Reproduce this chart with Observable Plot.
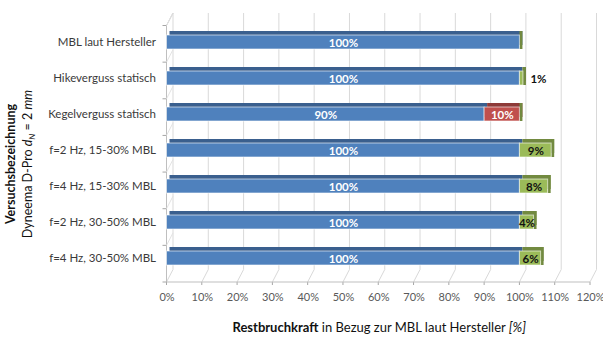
<!DOCTYPE html>
<html>
<head>
<meta charset="utf-8">
<script src="https://cdn.jsdelivr.net/npm/d3@7"></script>
<script src="https://cdn.jsdelivr.net/npm/@observablehq/plot@0.6"></script>
<style>
  html, body { margin: 0; padding: 0; background: #fff; }
  #chart svg { display: block; }
</style>
</head>
<body>
<div id="chart"></div>
<script>
// Test series (Dyneema D-Pro, d_N = 2 mm), residual breaking force in % of MBL
const categories = [
  "MBL laut Hersteller",
  "Hikeverguss statisch",
  "Kegelverguss statisch",
  "f=2 Hz, 15-30% MBL",
  "f=4 Hz, 15-30% MBL",
  "f=2 Hz, 30-50% MBL",
  "f=4 Hz, 30-50% MBL"
];
const baseValues  = [100, 100, 90, 100, 100, 100, 100];
const lossValues  = [0, 0, 10, 0, 0, 0, 0];
const gainValues  = [0, 1, 0, 9, 8, 4, 6];
const xTicks = [0, 10, 20, 30, 40, 50, 60, 70, 80, 90, 100, 110, 120];

// Excel-like 3D colours: front face, top face, label colour
const palette = {
  base: {front: "#4F81BD", top: "#3A5F8E", label: "#ffffff"},
  loss: {front: "#C0504D", top: "#8E3A38", label: "#ffffff"},
  gain: {front: "#9BBB59", top: "#728A40", label: "#111111"}
};
const seriesOrder = [
  {key: "base", values: baseValues},
  {key: "loss", values: lossValues},
  {key: "gain", values: gainValues}
];

// stacked segments (x1..x2) per category
const segments = [];
const totals = [];
categories.forEach((cat, i) => {
  let acc = 0;
  seriesOrder.forEach(s => {
    const v = s.values[i];
    segments.push({cat, series: s.key, value: v, x1: acc, x2: acc + v});
    acc += v;
  });
  totals.push({cat, total: acc});
});
const visible = segments.filter(d => d.value > 0);

// back wall, floor and left wall of the 3D chart box
function chartBox(index, scales, values, dimensions) {
  const x = scales.x;
  const {height, marginTop, marginBottom} = dimensions;
  const floorFront = height - marginBottom + 3.5;
  const depthX = 6.5, depthY = 12.5;
  const floorBack = floorFront - depthY;
  const backTop = marginTop - 9.3;
  const frontTop = backTop + depthY;
  const g = d3.create("svg:g").attr("fill", "none");
  for (const t of xTicks) {
    const px = x(t);
    g.append("path")
      .attr("d", `M${px},${floorFront}L${px + depthX},${floorBack}V${backTop}`)
      .attr("stroke", "#d9d9d9").attr("stroke-width", 1);
    g.append("path")
      .attr("d", `M${px},${floorFront}v3`)
      .attr("stroke", "#a6a6a6");
  }
  const x0 = x(0), xEnd = x(xTicks[xTicks.length - 1]);
  g.append("path")
    .attr("d", `M${x0},${floorFront}H${xEnd}`)
    .attr("stroke", "#bfbfbf");
  g.append("path")
    .attr("d", `M${x0},${floorFront}V${frontTop}L${x0 + depthX},${backTop}`)
    .attr("stroke", "#bfbfbf");
  const n = categories.length;
  for (let k = 0; k <= n; k++) {
    const yy = frontTop + (floorFront - frontTop) * k / n;
    g.append("path").attr("d", `M${x0 - 4},${yy}H${x0}`).attr("stroke", "#a6a6a6");
    if (k < n) g.append("path").attr("d", `M${x0},${yy}l${depthX},${-depthY}`).attr("stroke", "#e3e3e3");
  }
  return g.node();
}

// axis titles with mixed bold / italic runs
function titles(index, scales, values, dimensions) {
  const {width, height, marginLeft, marginRight} = dimensions;
  const g = d3.create("svg:g").attr("fill", "#111");
  const xt = g.append("text")
    .attr("x", (marginLeft + width - marginRight) / 2 + 1)
    .attr("y", height - 6)
    .attr("text-anchor", "middle")
    .attr("font-size", 13);
  xt.append("tspan").attr("font-weight", "bold").text("Restbruchkraft");
  xt.append("tspan").text(" in Bezug zur MBL laut Hersteller ");
  xt.append("tspan").attr("font-style", "italic").text("[%]");

  const cy = 164;
  g.append("text")
    .attr("transform", `translate(15,${cy}) rotate(-90)`)
    .attr("text-anchor", "middle")
    .attr("font-size", 12.5)
    .attr("font-weight", "bold")
    .text("Versuchsbezeichnung");
  const y2 = g.append("text")
    .attr("transform", `translate(32,${cy}) rotate(-90)`)
    .attr("text-anchor", "middle")
    .attr("font-size", 12.5);
  y2.append("tspan").text("Dyneema D-Pro ");
  y2.append("tspan").attr("font-style", "italic").text("d");
  y2.append("tspan").attr("font-style", "italic").attr("font-size", 8.5).attr("dy", 3).text("N");
  y2.append("tspan").attr("dy", -3).text(" = 2 ");
  y2.append("tspan").attr("font-style", "italic").text("mm");
  return g.node();
}

const marks = [
  chartBox,
  // top faces (shifted copies behind the fronts)
  ...seriesOrder.map(s => Plot.barX(visible.filter(d => d.series === s.key), {
    x1: "x1", x2: "x2", y: "cat", dx: 3, dy: -4, fill: palette[s.key].top
  })),
  // right side face at the end of each stack
  Plot.barX(totals, {
    x1: "total", x2: "total", y: "cat", insetRight: -3, insetTop: -4,
    fill: palette.gain.top
  }),
  // front faces
  ...seriesOrder.map(s => Plot.barX(visible.filter(d => d.series === s.key), {
    x1: "x1", x2: "x2", y: "cat", fill: palette[s.key].front,
    stroke: "rgba(255,255,255,0.6)", strokeWidth: 1
  })),
  // value labels inside the segments
  ...seriesOrder.map(s => Plot.text(visible.filter(d => d.series === s.key && d.value > 1), {
    x: d => (d.x1 + d.x2) / 2, y: "cat", text: d => `${d.value}%`,
    fill: palette[s.key].label, fontWeight: "bold", fontSize: 11.5, dy: 0.5
  })),
  // small values are labelled beside the bar
  Plot.text(visible.filter(d => d.value <= 1), {
    x: "x2", y: "cat", text: d => `${d.value}%`, textAnchor: "start", dx: 7,
    fill: "#111", fontWeight: "bold", fontSize: 11.5, dy: 0.5
  }),
  Plot.axisX({
    ticks: xTicks, tickFormat: d => `${d}%`, tickSize: 0, tickPadding: 14,
    fill: "#595959", fontSize: 11, label: null
  }),
  Plot.axisY({
    tickSize: 0, tickPadding: 11, fill: "#3a3a3a", fontSize: 11.5, label: null
  }),
  titles
];

const chart = Plot.plot({
  width: 603,
  height: 338,
  marginLeft: 166.5,
  marginRight: 13,
  marginTop: 22.3,
  marginBottom: 59.5,
  style: {fontFamily: "Lato, sans-serif", fontSize: "11px", background: "#fff", color: "#3a3a3a"},
  x: {domain: [0, 120]},
  y: {domain: categories, paddingInner: 0.607, paddingOuter: 0.3, align: 0.5},
  marks
});
document.getElementById("chart").appendChild(chart);
</script>
</body>
</html>
